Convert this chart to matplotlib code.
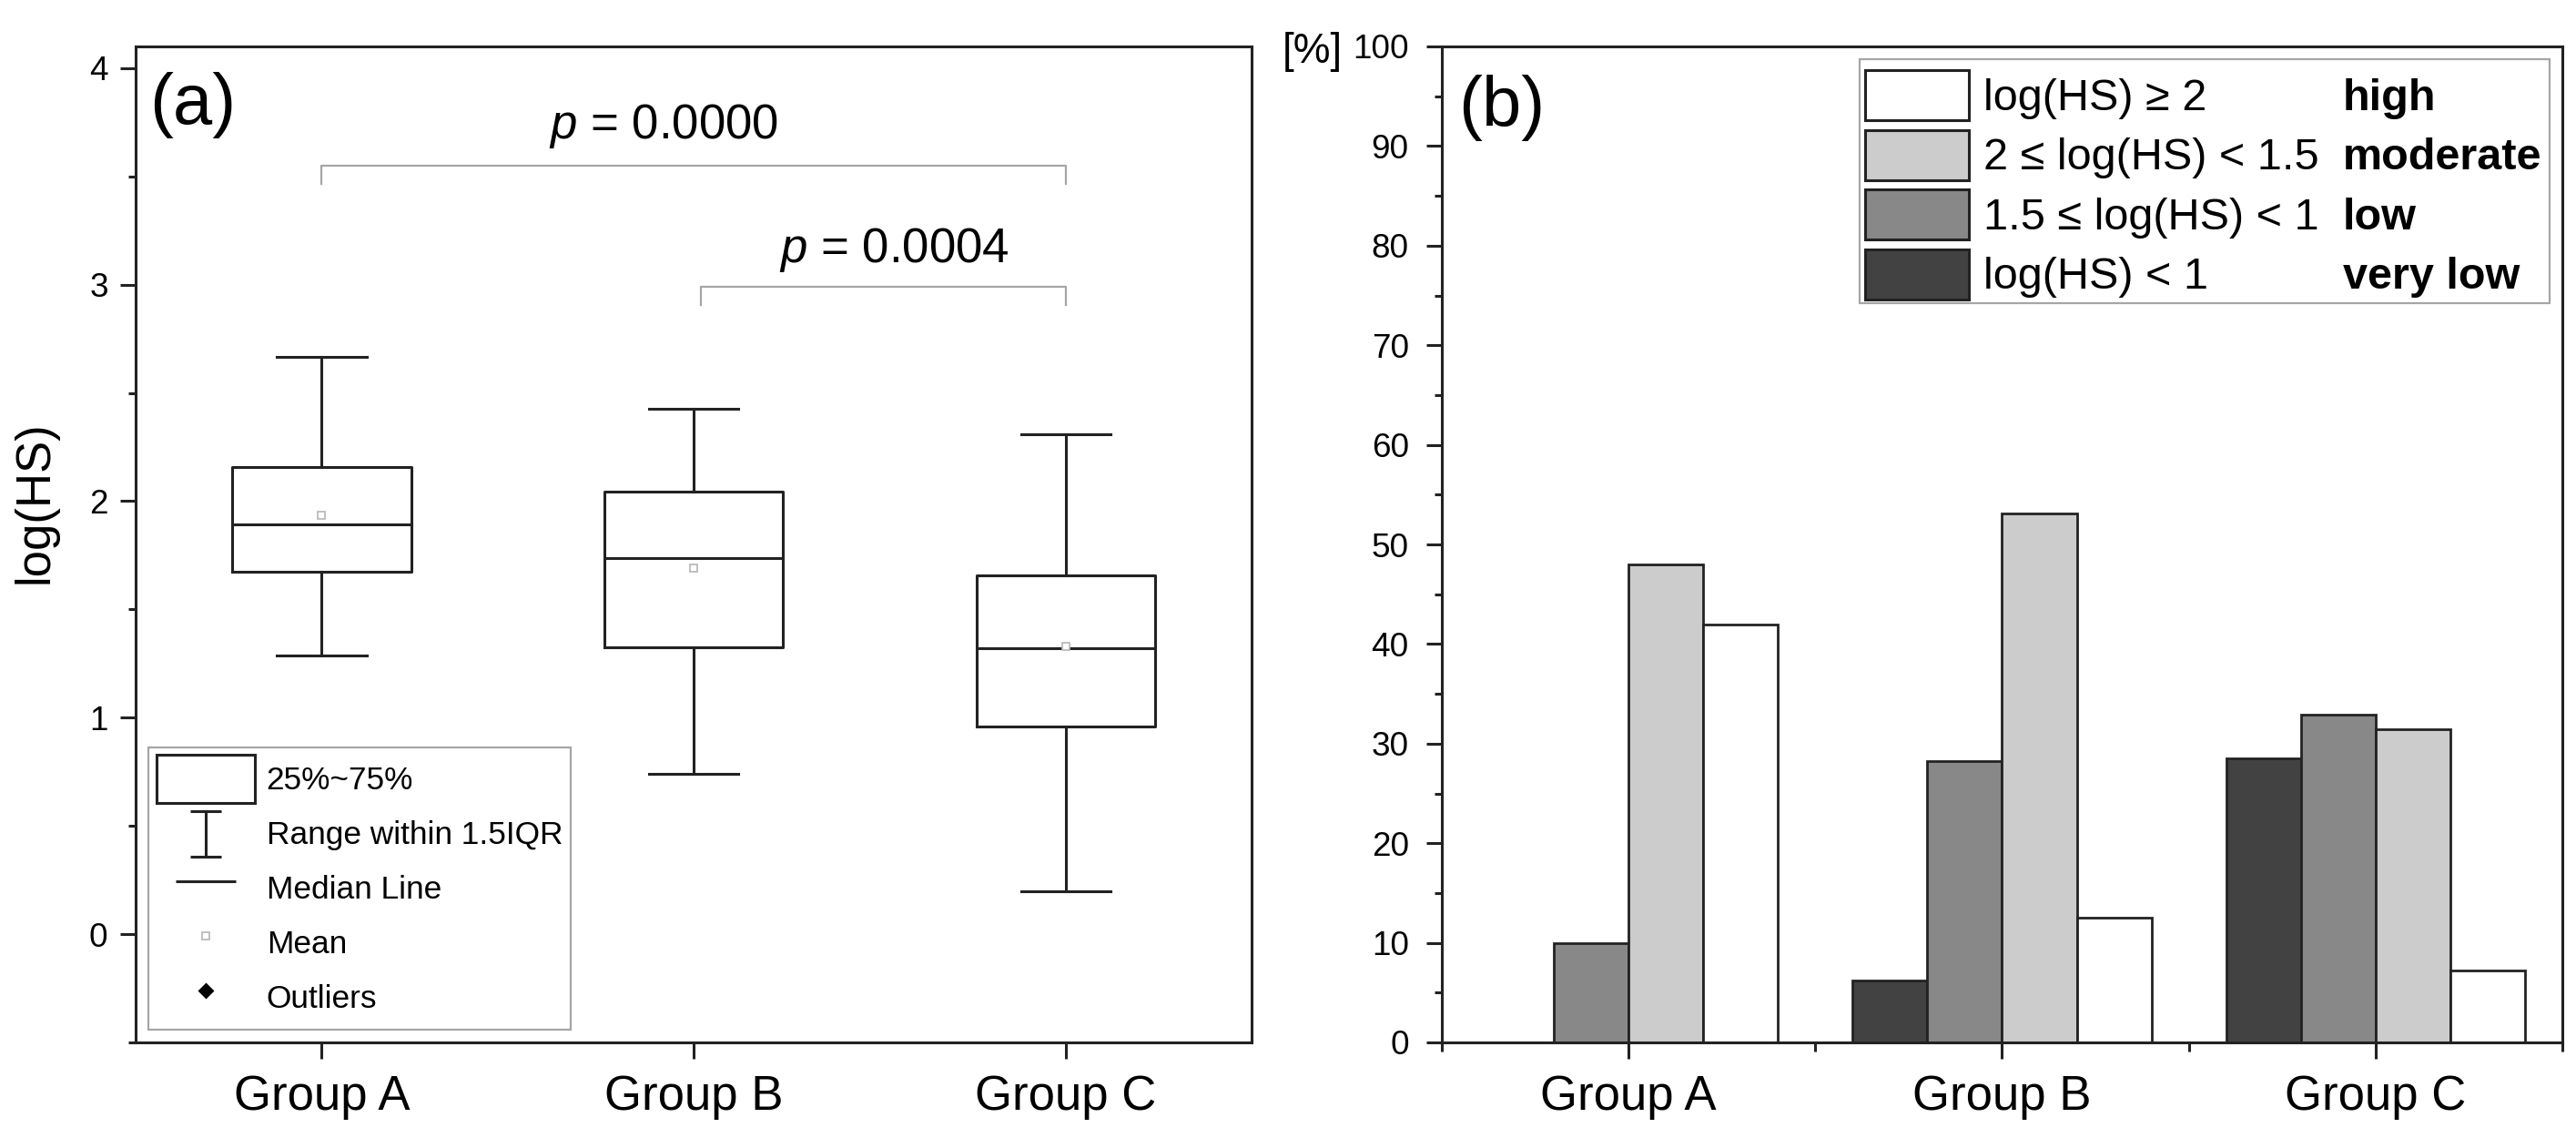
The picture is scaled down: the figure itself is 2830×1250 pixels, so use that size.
import numpy as np
import matplotlib
matplotlib.use("Agg")
import matplotlib.pyplot as plt
from matplotlib.lines import Line2D
from matplotlib.patches import Patch, Rectangle
from matplotlib.path import Path
from matplotlib.ticker import MultipleLocator

plt.rcParams["font.family"] = ["Liberation Sans", "DejaVu Sans"]
plt.rcParams["mathtext.fontset"] = "custom"
plt.rcParams["mathtext.rm"] = "Liberation Sans"
plt.rcParams["mathtext.it"] = "Liberation Sans:italic"

groups = ["Group A", "Group B", "Group C"]

# (a) box statistics of log(HS)
q1 = [1.674, 1.325, 0.958]
medians = [1.893, 1.737, 1.319]
q3 = [2.158, 2.044, 1.655]
whisker_low = [1.287, 0.740, 0.197]
whisker_high = [2.667, 2.427, 2.307]
means = [1.933, 1.69, 1.33]

p_values = ["0.0000", "0.0004"]

# (b) share of samples per class [%]
class_names = ["very low", "low", "moderate", "high"]
class_ranges = ["log(HS) < 1", "1.5 \u2264 log(HS) < 1",
                "2 \u2264 log(HS) < 1.5", "log(HS) \u2265 2"]
pct_very_low = [0.0, 6.2, 28.5]
pct_low = [10.0, 28.2, 32.9]
pct_moderate = [48.0, 53.1, 31.4]
pct_high = [42.0, 12.5, 7.2]

class_colors = ["#424242", "#888888", "#cccccc", "white"]
ink = "#222222"

fig = plt.figure(figsize=(14.15, 6.25), dpi=200)
ax_a = fig.add_axes([0.0527, 0.084, 0.4332, 0.8752])
ax_b = fig.add_axes([0.5597, 0.084, 0.4350, 0.8752])

pos = np.arange(1, len(groups) + 1)

# ---------------- (a) box plot ----------------
stats = []
for i in range(len(groups)):
    stats.append(dict(med=medians[i], q1=q1[i], q3=q3[i],
                      whislo=whisker_low[i], whishi=whisker_high[i],
                      mean=means[i], fliers=[]))

line_kw = dict(color=ink, linewidth=1.1)
ax_a.bxp(stats, positions=pos, widths=0.48, capwidths=0.24,
         showmeans=True, showfliers=False,
         boxprops=line_kw, whiskerprops=line_kw, capprops=line_kw,
         medianprops=line_kw,
         meanprops=dict(marker="s", markersize=2.6, markerfacecolor="white",
                        markeredgecolor="#b5b5b5", markeredgewidth=0.6))

# significance brackets
brackets = [(1.0, 3.0, 3.55, 3.466, 1.92, 3.73),
            (2.02, 3.0, 2.99, 2.906, 2.54, 3.16)]
for (x0, x1, ytop, ydrop, tx, ty), pv in zip(brackets, p_values):
    ax_a.plot([x0, x0, x1, x1], [ydrop, ytop, ytop, ydrop],
              color="#a5a5a5", linewidth=0.8)
    ax_a.text(tx, ty, f"$p$ = {pv}", ha="center", va="center", fontsize=19)

ax_a.set_xlim(0.5, 3.5)
ax_a.set_ylim(-0.5, 4.1)
ax_a.set_xticks(pos)
ax_a.set_xticklabels(groups)
ax_a.yaxis.set_major_locator(MultipleLocator(1))
ax_a.yaxis.set_minor_locator(MultipleLocator(0.5))
ax_a.tick_params(axis="y", which="major", length=6, width=1.1, pad=5,
                 labelsize=13.3, color=ink)
ax_a.tick_params(axis="y", which="minor", length=3, width=1.1, color=ink)
ax_a.tick_params(axis="x", which="major", length=6.5, width=1.1, pad=6,
                 labelsize=19, color=ink)
ax_a.set_ylabel("log(HS)", fontsize=19)
ax_a.yaxis.set_label_coords(-0.070, 0.542)
ax_a.text(0.0514, 0.9406, "(a)", transform=ax_a.transAxes, fontsize=28,
          ha="center", va="center")

# I-beam legend symbol, drawn a little below the marker centre
ibeam = Path([(-0.7, -1.3), (0.7, -1.3), (0, -1.3), (0, 0.7),
              (-0.7, 0.7), (0.7, 0.7)],
             [Path.MOVETO, Path.LINETO, Path.MOVETO, Path.LINETO,
              Path.MOVETO, Path.LINETO])
handles_a = [
    Patch(facecolor="white", edgecolor=ink, linewidth=1.1),
    Line2D([], [], linestyle="none", marker=ibeam, markersize=23.4,
           markeredgecolor=ink, markerfacecolor="none", markeredgewidth=1.1),
    Line2D([], [], linestyle="none", marker="_", markersize=24,
           markeredgecolor=ink, markeredgewidth=1.1),
    Line2D([], [], linestyle="none", marker="s", markersize=3,
           markerfacecolor="white", markeredgecolor="#b5b5b5",
           markeredgewidth=0.6),
    Line2D([], [], linestyle="none", marker="D", markersize=3.5,
           color="black"),
]
labels_a = ["25%~75%", "Range within 1.5IQR", "Median Line", "Mean",
            "Outliers"]
leg_a = ax_a.legend(handles_a, labels_a, loc="lower left", fontsize=12.7,
                    handlelength=3.05, handleheight=1.93, labelspacing=0.2,
                    handletextpad=0.37, borderpad=0.25, borderaxespad=0.4,
                    fancybox=False, framealpha=1, edgecolor="#a5a5a5")
leg_a.get_frame().set_linewidth(0.8)

# ---------------- (b) grouped bars ----------------
series = [pct_very_low, pct_low, pct_moderate, pct_high]
offsets = [-0.3, -0.1, 0.1, 0.3]
for vals, off, col in zip(series, offsets, class_colors):
    ax_b.bar(pos + off, vals, width=0.2, color=col, edgecolor=ink,
             linewidth=1.0)

ax_b.set_xlim(0.5, 3.5)
ax_b.set_ylim(0, 100)
ax_b.set_xticks(pos)
ax_b.set_xticklabels(groups)
ax_b.set_xticks(np.arange(0.5, 3.6, 1.0), minor=True)
ax_b.yaxis.set_major_locator(MultipleLocator(10))
ax_b.yaxis.set_minor_locator(MultipleLocator(5))
ax_b.tick_params(axis="y", which="major", length=6, width=1.1, pad=7,
                 labelsize=13.3, color=ink)
ax_b.tick_params(axis="y", which="minor", length=3, width=1.1, color=ink)
ax_b.tick_params(axis="x", which="major", length=6.5, width=1.1, pad=6,
                 labelsize=19, color=ink)
ax_b.tick_params(axis="x", which="minor", length=3.5, width=1.1, color=ink)
ax_b.text(-0.0885, 0.9945, "[%]", transform=ax_b.transAxes, fontsize=16.5,
          ha="right", va="center")
ax_b.text(0.0536, 0.938, "(b)", transform=ax_b.transAxes, fontsize=28,
          ha="center", va="center")

handles_b = [Patch(facecolor=c, edgecolor=ink, linewidth=1.1)
             for c in class_colors][::-1]
leg_kw = dict(loc="upper left", fontsize=17.5, handleheight=1.365,
              labelspacing=0.216, borderpad=0, borderaxespad=0,
              frameon=False)
leg_b1 = ax_b.legend(handles_b, class_ranges[::-1], handlelength=2.34,
                     handletextpad=0.34, bbox_to_anchor=(0.3777, 0.9762),
                     **leg_kw)
ax_b.add_artist(leg_b1)
blank = [Patch(facecolor="none", edgecolor="none") for _ in class_names]
leg_b2 = ax_b.legend(blank, class_names[::-1], handlelength=0,
                     handletextpad=0, bbox_to_anchor=(0.8042, 0.9762),
                     prop=dict(weight="bold", size=17.5), **leg_kw)
ax_b.add_patch(Rectangle((0.3729, 0.7422), 0.9886 - 0.3729,
                         0.9872 - 0.7422, transform=ax_b.transAxes,
                         facecolor="none", edgecolor="#a5a5a5",
                         linewidth=0.8, zorder=5))

for ax in (ax_a, ax_b):
    for sp in ax.spines.values():
        sp.set_color(ink)
        sp.set_linewidth(1.1)

fig.savefig("out.png", dpi=200)
